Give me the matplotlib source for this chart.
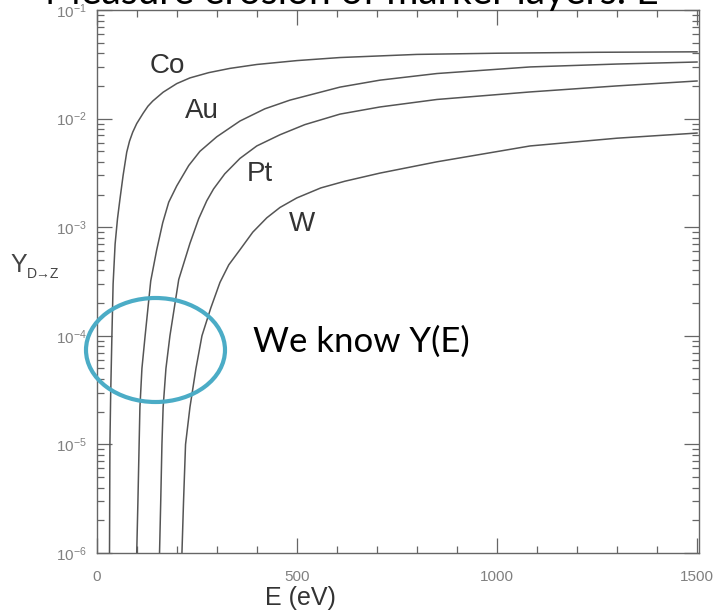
import matplotlib
matplotlib.use("Agg")
import matplotlib.pyplot as plt
from matplotlib.patches import Ellipse
from matplotlib.ticker import MultipleLocator, LogLocator, NullFormatter

# sputtering yield D -> Z
co_e = [32, 33, 35, 38, 41, 46, 52, 58, 66, 75, 82, 90, 100, 116, 128, 140, 166, 200, 233, 280, 333, 400, 500, 608,
        800, 1000, 1250, 1500]
co_y = [1e-6, 1e-5, 3e-5, 1e-4, 3e-4, 7e-4, 1.2e-3, 1.8e-3, 3e-3, 4.9e-3, 6.2e-3, 7.5e-3, 9e-3, 1.12e-2, 1.3e-2,
        1.45e-2, 1.75e-2, 2.1e-2, 2.37e-2, 2.65e-2, 2.9e-2, 3.15e-2, 3.42e-2, 3.65e-2, 3.9e-2, 4.0e-2, 4.08e-2,
        4.12e-2]

au_e = [100, 103, 106, 108, 113, 121, 135, 150, 165, 180, 200, 230, 258, 300, 358, 420, 483, 608, 708, 850, 1083,
        1300, 1500]
au_y = [1e-6, 3e-6, 1e-5, 2.2e-5, 5e-5, 1e-4, 3.2e-4, 6.2e-4, 1.1e-3, 1.7e-3, 2.4e-3, 3.7e-3, 5.0e-3, 6.8e-3,
        9.5e-3, 1.23e-2, 1.48e-2, 1.95e-2, 2.26e-2, 2.6e-2, 2.99e-2, 3.18e-2, 3.32e-2]

pt_e = [157, 160, 163, 166, 173, 183, 205, 233, 255, 275, 292, 320, 358, 400, 458, 520, 608, 708, 850, 1083, 1300,
        1500]
pt_y = [1e-6, 3e-6, 1e-5, 2.2e-5, 5e-5, 1e-4, 3.3e-4, 7.1e-4, 1.2e-3, 1.75e-3, 2.25e-3, 3.1e-3, 4.3e-3, 5.6e-3,
        7.1e-3, 8.8e-3, 1.1e-2, 1.28e-2, 1.5e-2, 1.76e-2, 2.0e-2, 2.22e-2]

w_e = [213, 217, 222, 233, 248, 263, 285, 308, 330, 358, 390, 425, 458, 500, 560, 620, 708, 850, 1083, 1300, 1500]
w_y = [1e-6, 3e-6, 1e-5, 2.2e-5, 5e-5, 1e-4, 1.8e-4, 3.1e-4, 4.5e-4, 6.2e-4, 9e-4, 1.22e-3, 1.52e-3, 1.86e-3,
       2.3e-3, 2.65e-3, 3.15e-3, 4.0e-3, 5.6e-3, 6.6e-3, 7.36e-3]

labels = ["Co", "Au", "Pt", "W"]
label_pos = [(167, 66), (202, 111), (260, 174), (302, 224)]  # pixel positions in the figure

plt.rcParams["font.family"] = ["Liberation Sans", "DejaVu Sans"]
plt.rcParams["mathtext.default"] = "regular"

W_PX, H_PX = 721, 611
fig = plt.figure(figsize=(W_PX / 100, H_PX / 100), dpi=100)
ax = fig.add_axes([96.7 / W_PX, 1 - 553 / H_PX, 602.3 / W_PX, 543 / H_PX])

line_col = "#555555"
for e, y in zip([co_e, au_e, pt_e, w_e], [co_y, au_y, pt_y, w_y]):
    ax.plot(e, y, color=line_col, lw=1.1, solid_joinstyle="round")

ax.set_yscale("log")
ax.set_xlim(0, 1505)
ax.set_ylim(1e-6, 1e-1)

ax.xaxis.set_major_locator(MultipleLocator(500))
ax.xaxis.set_minor_locator(MultipleLocator(100))
ax.yaxis.set_major_locator(LogLocator(base=10, numticks=10))
ax.yaxis.set_minor_locator(LogLocator(base=10, subs=range(2, 10), numticks=20))
ax.yaxis.set_minor_formatter(NullFormatter())

ax.tick_params(which="both", direction="in", top=True, right=True, colors="#666666",
               labelcolor="#808080", labelsize=11, width=0.9)
ax.tick_params(which="major", length=11)
ax.tick_params(which="minor", length=5)
ax.tick_params(axis="x", which="major", pad=12)
ax.tick_params(axis="y", which="major", pad=7)
for s in ax.spines.values():
    s.set_color("#666666")
    s.set_linewidth(1.0)

for name, (px, py) in zip(labels, label_pos):
    fig.text(px / W_PX, 1 - py / H_PX, name, fontsize=20, color="#333333", ha="center", va="center")

# axis labels
fig.text(300 / W_PX, 1 - 598 / H_PX, "E (eV)", fontsize=18, color="#333333", ha="center", va="center")
fig.text(10 / W_PX, 1 - 265 / H_PX, "Y", fontsize=18, color="#444444", ha="left", va="center")
fig.text(27 / W_PX, 1 - 274 / H_PX, "D\u2192Z", fontsize=10, color="#444444", ha="left", va="center")

# slide overlay
ell = Ellipse((155.5 / 100, (H_PX - 350) / 100), 1.39, 1.04, transform=fig.dpi_scale_trans,
              fill=False, edgecolor="#4bacc6", lw=3.0, zorder=10)
fig.add_artist(ell)
fig.text(253 / W_PX, 1 - 342 / H_PX, "We know Y(E)", fontsize=25, color="black",
         ha="left", va="center", family=["Lato", "DejaVu Sans"])
fig.text(45 / W_PX, 1 - 4 / H_PX, "Measure erosion of marker layers: E", fontsize=28, color="black",
         ha="left", va="baseline", family=["Lato", "DejaVu Sans"])

fig.savefig("out.png", dpi=100)
